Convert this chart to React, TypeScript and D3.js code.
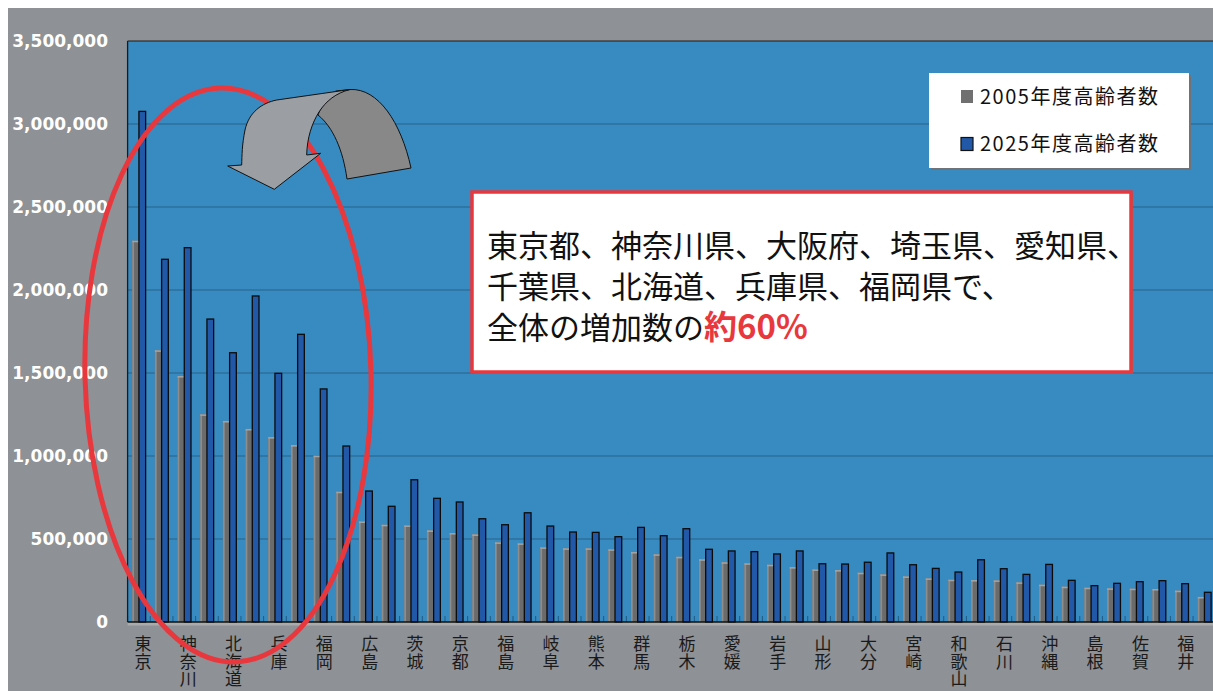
import React from 'react';
import * as d3 from 'd3';

const prefectures: string[] = [
  '東京','大阪','神奈川','愛知','北海道','埼玉','兵庫','千葉','福岡','静岡',
  '広島','新潟','茨城','長野','京都','宮城','福島','岡山','岐阜','鹿児島',
  '熊本','三重','群馬','山口','栃木','長崎','愛媛','青森','岩手','奈良',
  '山形','秋田','大分','滋賀','宮崎','富山','和歌山','香川','石川','山梨',
  '沖縄','徳島','島根','高知','佐賀','―','福井','鳥取'
];

const elderly2005: number[] = [
  2297000,1637000,1482000,1251000,1211000,1163000,1114000,1066000,1002000,785000,
  606000,586000,582000,552000,536000,528000,480000,474000,450000,444000,
  444000,438000,422000,408000,393000,378000,360000,354000,345000,331000,
  317000,313000,297000,287000,275000,263000,255000,253000,251000,239000,
  225000,213000,207000,203000,201000,199000,189000,151000
];

const elderly2025: number[] = [
  3076000,2185000,2255000,1825000,1622000,1964000,1498000,1733000,1404000,1060000,
  789000,697000,857000,745000,723000,622000,586000,658000,578000,542000,
  540000,514000,570000,520000,562000,438000,428000,424000,410000,428000,
  351000,349000,360000,416000,345000,323000,301000,375000,321000,287000,
  347000,251000,219000,233000,243000,249000,231000,179000
];

const seriesNames: string[] = ['2005年度高齢者数', '2025年度高齢者数'];
const yTicks: number[] = [0, 500000, 1000000, 1500000, 2000000, 2500000, 3000000, 3500000];
const calloutLines: string[] = [
  '東京都、神奈川県、大阪府、埼玉県、愛知県、',
  '千葉県、北海道、兵庫県、福岡県で、',
  '全体の増加数の'
];
const calloutEmph = '約60%';

const W = 1213;
const H = 691;
const plotLeft = 127.6;
const plotTop = 41;
const plotBottom = 622;
const catStep = 22.67;

export default function App() {
  const n = prefectures.length;
  const y = d3.scaleLinear().domain([0, 3500000]).range([plotBottom, plotTop]);
  const x0 = d3.scaleBand<number>().domain(d3.range(n)).range([plotLeft, plotLeft + n * catStep]);
  const x1 = d3.scaleBand<string>().domain(seriesNames).range([0, x0.bandwidth()]).paddingOuter(0.69);
  const fmt = d3.format(',');
  const cjk = '"Noto Sans CJK JP", "Noto Sans", sans-serif';

  return (
    <svg width={W} height={H} style={{ position: 'fixed', left: 0, top: 0, display: 'block' }}>
      <rect x={0} y={0} width={W} height={H} fill="#ffffff" />
      <rect x={8} y={8} width={W - 8} height={H - 8} fill="#8e9195" />
      <defs>
        <clipPath id="plotclip">
          <rect x={plotLeft} y={plotTop} width={W - plotLeft} height={plotBottom - plotTop + 1} />
        </clipPath>
      </defs>
      {/* plot area */}
      <rect x={plotLeft} y={plotTop} width={W - plotLeft} height={plotBottom - plotTop} fill="#388bc1" />
      <rect x={plotLeft} y={plotBottom} width={W - plotLeft} height={3.5} fill="#a9abad" />
      {yTicks.filter(t => t > 0 && t < 3500000).map(t => (
        <line key={t} x1={plotLeft} x2={W} y1={y(t)} y2={y(t)} stroke="#24628b" strokeWidth={1.2} />
      ))}
      <g clipPath="url(#plotclip)">
        {d3.range(n + 1).map(i => {
          const xx = plotLeft + i * catStep;
          return <line key={'t' + i} x1={xx} x2={xx} y1={plotBottom - 6} y2={plotBottom} stroke="#1f5a85" strokeWidth={1} />;
        })}
        {d3.range(n).map(i => {
          const gx = (x0(i) as number) + (x1(seriesNames[0]) as number);
          const bx = (x0(i) as number) + (x1(seriesNames[1]) as number);
          const bw = x1.bandwidth();
          const gy = y(elderly2005[i]);
          const by = y(elderly2025[i]);
          return (
            <g key={i}>
              <rect x={gx} y={gy} width={bw} height={plotBottom - gy} fill="#6b6b6b" />
              <rect x={gx} y={gy} width={1.8} height={plotBottom - gy} fill="#8d8d8d" />
              <rect x={gx} y={gy} width={bw} height={1.6} fill="#a2a2a2" />
              <rect x={bx} y={by} width={bw} height={plotBottom - by} fill="#2158a7" stroke="#0b0b0b" strokeWidth={1.3} />
            </g>
          );
        })}
      </g>
      {/* axes */}
      <line x1={plotLeft} x2={W} y1={plotTop} y2={plotTop} stroke="#1b1b1b" strokeWidth={1} />
      <line x1={plotLeft} x2={plotLeft} y1={plotTop} y2={plotBottom} stroke="#1b1b1b" strokeWidth={1.3} />
      <line x1={plotLeft} x2={W} y1={plotBottom} y2={plotBottom} stroke="#111" strokeWidth={1.6} />
      {yTicks.map(t => (
        <text key={'yl' + t} x={108} y={y(t)} dy="0.36em" textAnchor="end" fill="#ffffff"
          fontFamily='"DejaVu Sans", Verdana, sans-serif' fontWeight="bold" fontSize={17}>
          {fmt(t)}
        </text>
      ))}
      {/* category labels (every other), stacked upright characters */}
      {d3.range(0, n, 2).map(i => {
        const cx = (x0(i) as number) + x0.bandwidth() / 2 + 4;
        return (
          <g key={'cl' + i}>
            {Array.from(prefectures[i]).map((ch, k) => (
              <text key={k} x={cx} y={644 + k * 17.5} dy="0.36em" textAnchor="middle" fill="#1a1a1a"
                fontFamily={cjk} fontSize={17}>{ch}</text>
            ))}
          </g>
        );
      })}
      {/* legend */}
      <rect x={931} y={75} width={260} height={95} fill="#6f7377" />
      <rect x={929} y={73} width={260} height={95} fill="#ffffff" />
      <rect x={961} y={90} width={12} height={13} fill="#707070" />
      <text x={980} y={97} dy="0.36em" fontFamily={cjk} fontSize={20} fill="#111" textLength={178} lengthAdjust="spacing">{seriesNames[0]}</text>
      <rect x={961} y={137.5} width={12} height={13} fill="#2158a7" stroke="#111" strokeWidth={1.2} />
      <text x={980} y={144} dy="0.36em" fontFamily={cjk} fontSize={20} fill="#111" textLength={178} lengthAdjust="spacing">{seriesNames[1]}</text>
      {/* callout */}
      <rect x={474} y={194} width={659} height={180} fill="#6f7377" />
      <rect x={472} y={192} width={659} height={180} fill="#ffffff" stroke="#e8383d" strokeWidth={3.5} />
      <text x={487} y={243} dominantBaseline="central" fontFamily={cjk} fontSize={31} fill="#111">{calloutLines[0]}</text>
      <text x={487} y={284} dominantBaseline="central" fontFamily={cjk} fontSize={31} fill="#111">{calloutLines[1]}</text>
      <text x={487} y={325} dominantBaseline="central" fontFamily={cjk} fontSize={31} fill="#111">
        <tspan>{calloutLines[2]}</tspan>
        <tspan fill="#e8383d" fontWeight="bold" fontSize={33}>{calloutEmph}</tspan>
      </text>
      {/* red ellipse */}
      <ellipse cx={228} cy={375} rx={143} ry={287} transform="rotate(-1.5 228 375)" fill="none" stroke="#e8383d" strokeWidth={5} />
      {/* curved arrow */}
      <path d="M 318,115 C 322,104 328,94 336,91 L 350,89.5 C 378,88 401,122 411,168 L 347,179 C 343,150 333,127 318,115 Z"
        fill="#888888" stroke="#111" strokeWidth={1} />
      <path d="M 241.7,165 L 227.7,166 L 274.3,189.3 L 320.7,153.3 L 306.7,155 C 307,138 312,123 319,112 C 326,101 336,93 350,89.5 L 276.7,100 C 262,103 249,112 245,130 C 242,145 242,155 241.7,165 Z"
        fill="#9b9fa4" stroke="#111" strokeWidth={1} />
    </svg>
  );
}
